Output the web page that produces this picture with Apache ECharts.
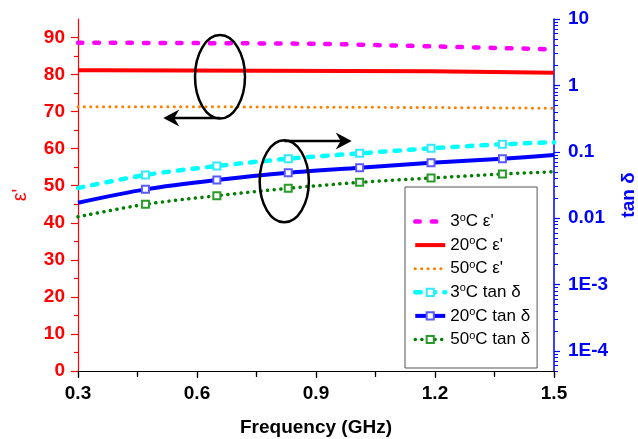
<!DOCTYPE html>
<html><head><meta charset="utf-8">
<script src="https://cdn.jsdelivr.net/npm/echarts@6/dist/echarts.min.js"></script>
<style>html,body{margin:0;padding:0;background:#fff}#c{width:638px;height:439px}</style>
</head><body><div id="c"></div>
<script>
// ---- data ----
const eps3X = [0.3, 0.6, 0.9, 1.08, 1.2, 1.35, 1.5];
const eps3 = [88.6, 88.5, 88.3, 87.9, 87.6, 87.2, 86.8];
const eps20X = [0.3, 0.355, 0.36, 1.19, 1.195, 1.5];
const eps20 = [81.2, 81.2, 80.9, 80.9, 80.6, 80.5];
const eps50X = [0.3, 0.6, 0.9, 1.2, 1.5];
const eps50 = [71.3, 71.3, 71.2, 71.1, 70.9];
const tanX = [0.3, 0.47, 0.65, 0.83, 1.01, 1.19, 1.37, 1.5];
const tan3 = [0.0285, 0.0448, 0.0611, 0.0787, 0.0948, 0.113, 0.130, 0.139];
const tan20 = [0.0171, 0.0272, 0.0376, 0.0484, 0.0576, 0.0686, 0.0787, 0.0895];
const tan50 = [0.0105, 0.0162, 0.0218, 0.0282, 0.0347, 0.0403, 0.0463, 0.0501];
const tanMarked = [false, true, true, true, true, true, true, false];
const seriesNames = ["3°C ε'", "20°C ε'", "50°C ε'", "3°C tan δ", "20°C tan δ", "50°C tan δ"];
const xTicks = [0.3, 0.6, 0.9, 1.2, 1.5];
const leftTicks = [0, 10, 20, 30, 40, 50, 60, 70, 80, 90];
const rightTicks = [1e-4, 1e-3, 0.01, 0.1, 1, 10];
const rightTickLabels = ['1E-4', '1E-3', '0.01', '0.1', '1', '10'];

const FONT = 'Liberation Sans, Arial, sans-serif';
const leftMinor = [];
for (let v = 5; v < 95; v += 10) leftMinor.push(v);
const rightMinor = [];
for (let e = -5; e <= 0; e++) for (let k = 2; k <= 9; k++) {
  const v = k * Math.pow(10, e);
  if (v >= 5e-5 && v <= 10) rightMinor.push(+v.toPrecision(3));
}

const pairs = (xs, ys) => xs.map((x, i) => [x, ys[i]]);
const marked = (xs, ys) => xs.map((x, i) => tanMarked[i] ? [x, ys[i]] : { value: [x, ys[i]], symbol: 'none' });

const chart = echarts.init(document.getElementById('c'), null, { renderer: 'canvas' });
const option = {
  animation: false,
  backgroundColor: '#fff',
  textStyle: { fontFamily: FONT },
  grid: { left: 78, right: 84, top: 19, bottom: 68, containLabel: false, outerBoundsMode: 'none' },
  legend: {
    data: seriesNames.map((n, i) => i < 3 ? { name: n, itemStyle: { opacity: 0 } } : { name: n }),
    orient: 'vertical', left: 405, top: 187,
    padding: [25, 7, 20, 8],
    itemWidth: 30, itemHeight: 9, itemGap: 5.6,
    backgroundColor: '#fff', borderColor: '#555', borderWidth: 1,
    lineStyle: { width: 'inherit' },
    formatter: n => n.replace('°', '{s|o}'),
    textStyle: {
      fontFamily: FONT, fontSize: 17, color: '#000',
      rich: { s: { fontSize: 11, fontFamily: FONT, color: '#000', verticalAlign: 'top', padding: [0, 0, 8, 0] } }
    }
  },
  xAxis: [{
    type: 'value', position: 'bottom', min: 0.3, max: 1.5, interval: 0.3,
    name: 'Frequency (GHz)', nameLocation: 'middle', nameGap: 47,
    nameTextStyle: { fontFamily: FONT, fontSize: 19, fontWeight: 'bold', color: '#000' },
    axisLine: { lineStyle: { color: '#000', width: 1.2 } },
    axisTick: { length: 7, lineStyle: { color: '#000', width: 1.2 } },
    minorTick: { show: true, splitNumber: 2, length: 4, lineStyle: { color: '#000', width: 1.2 } },
    axisLabel: { margin: 13, fontFamily: FONT, fontSize: 19, fontWeight: 'bold', color: '#000',
      customValues: xTicks, formatter: v => v.toFixed(1) },
    splitLine: { show: false }
  }, {
    type: 'value', position: 'top', min: 0.3, max: 1.5, interval: 0.15,
    axisLine: { lineStyle: { color: '#000', width: 1.2 } },
    axisTick: { inside: true, length: 6, lineStyle: { color: '#000', width: 1.2 } },
    axisLabel: { show: false }, splitLine: { show: false }
  }],
  yAxis: [{
    type: 'value', position: 'left', min: 0, max: 95,
    name: "ε'", nameLocation: 'middle', nameGap: 48, nameRotate: 90,
    nameTextStyle: { fontFamily: FONT, fontSize: 20, color: '#ff0000' },
    axisLine: { show: true, lineStyle: { color: '#ff0000', width: 1.2 } },
    axisTick: { length: 7, customValues: leftTicks, lineStyle: { color: '#ff0000', width: 1.2 } },
    axisLabel: { margin: 13, customValues: leftTicks, fontFamily: FONT, fontSize: 19, fontWeight: 'bold', color: '#ff0000' },
    splitLine: { show: false }
  }, {
    type: 'log', logBase: 10, position: 'right', min: 5e-5, max: 10,
    name: 'tan δ', nameLocation: 'middle', nameGap: 59, nameRotate: 90,
    nameTextStyle: { fontFamily: FONT, fontSize: 19, fontWeight: 'bold', color: '#0000ff' },
    axisLine: { show: true, lineStyle: { color: '#0000ff', width: 1.5 } },
    axisTick: { length: 6, customValues: rightTicks, lineStyle: { color: '#0000ff', width: 1.2 } },
    axisLabel: { margin: 14, customValues: rightTicks, fontFamily: FONT, fontSize: 19, fontWeight: 'bold', color: '#0000ff',
      formatter: v => { const i = rightTicks.findIndex(t => Math.abs(Math.log10(t) - Math.log10(v)) < 1e-6); return i >= 0 ? rightTickLabels[i] : ''; } },
    splitLine: { show: false }
  }, {
    type: 'value', position: 'left', min: 0, max: 95,
    axisLine: { show: false },
    axisTick: { length: 4, customValues: leftMinor, lineStyle: { color: '#ff0000', width: 1.2 } },
    axisLabel: { show: false }, splitLine: { show: false }
  }, {
    type: 'log', logBase: 10, position: 'right', min: 5e-5, max: 10,
    axisLine: { show: false },
    axisTick: { length: 4, customValues: rightMinor, lineStyle: { color: '#0000ff', width: 1 } },
    axisLabel: { show: false }, splitLine: { show: false }
  }],
  series: [{
    name: seriesNames[0], type: 'line', yAxisIndex: 0, symbol: 'none', smooth: 0.3,
    data: pairs(eps3X, eps3),
    lineStyle: { color: '#ff00ff', width: 4.5, type: [4.5, 12], cap: 'round' }, itemStyle: { color: '#ff00ff' }
  }, {
    name: seriesNames[1], type: 'line', yAxisIndex: 0, symbol: 'none',
    data: pairs(eps20X, eps20),
    lineStyle: { color: '#ff0000', width: 4 }, itemStyle: { color: '#ff0000' }
  }, {
    name: seriesNames[2], type: 'line', yAxisIndex: 0, symbol: 'none', smooth: 0.3,
    data: pairs(eps50X, eps50),
    lineStyle: { color: '#ff7f00', width: 3, type: [0.1, 6.3], cap: 'round' }, itemStyle: { color: '#ff7f00' }
  }, {
    name: seriesNames[3], type: 'line', yAxisIndex: 1, symbol: 'emptyRect', symbolSize: 7, smooth: 0.3,
    data: marked(tanX, tan3),
    lineStyle: { color: '#00ffff', width: 4.5, type: [5.5, 9], cap: 'round' },
    itemStyle: { color: '#33e8ff', borderWidth: 1.2 }
  }, {
    name: seriesNames[4], type: 'line', yAxisIndex: 1, symbol: 'emptyRect', symbolSize: 7, smooth: 0.3,
    data: marked(tanX, tan20),
    lineStyle: { color: '#0000ff', width: 4 },
    itemStyle: { color: '#5a5aff', borderWidth: 1.2 }
  }, {
    name: seriesNames[5], type: 'line', yAxisIndex: 1, symbol: 'emptyRect', symbolSize: 7, smooth: 0.3,
    data: marked(tanX, tan50),
    lineStyle: { color: '#007f00', width: 3.5, type: [0.1, 6.5], cap: 'round' },
    itemStyle: { color: '#2a9a2a', borderWidth: 1.2 }
  }]
};
chart.setOption(option);

// ---- annotations (placed in data units through the chart's scales) ----
const annoEllipses = [
  { x: 0.658, y: 79.4, dx: 0.063, dy: 11.26 },
  { x: 0.82, y: 51.2, dx: 0.062, dy: 11.07 }
];
const annoArrows = [
  { x0: 0.658, x1: 0.515, y: 68.3 },
  { x0: 0.82, x1: 0.99, y: 62.1 }
];
const P = (x, y) => chart.convertToPixel({ xAxisIndex: 0, yAxisIndex: 0 }, [x, y]);
const graphics = [];
annoEllipses.forEach(e => {
  const c = P(e.x, e.y), c2 = P(e.x + e.dx, e.y - e.dy);
  graphics.push({ type: 'ellipse', z: 100, shape: { cx: c[0], cy: c[1], rx: c2[0] - c[0], ry: c2[1] - c[1] },
    style: { fill: null, stroke: '#000', lineWidth: 2.5 } });
});
annoArrows.forEach(a => {
  const s = P(a.x0, a.y), t = P(a.x1, a.y);
  const dir = t[0] > s[0] ? 1 : -1;
  const y = s[1];
  graphics.push({ type: 'line', z: 100, shape: { x1: s[0], y1: y, x2: t[0] - dir * 8, y2: y }, style: { stroke: '#000', lineWidth: 2.5 } });
  graphics.push({ type: 'polygon', z: 100, shape: { points: [[t[0], y], [t[0] - dir * 16, y - 8.5], [t[0] - dir * 11, y], [t[0] - dir * 16, y + 8.5]] },
    style: { fill: '#000' } });
});
chart.setOption({ graphic: graphics });
</script>
</body></html>
